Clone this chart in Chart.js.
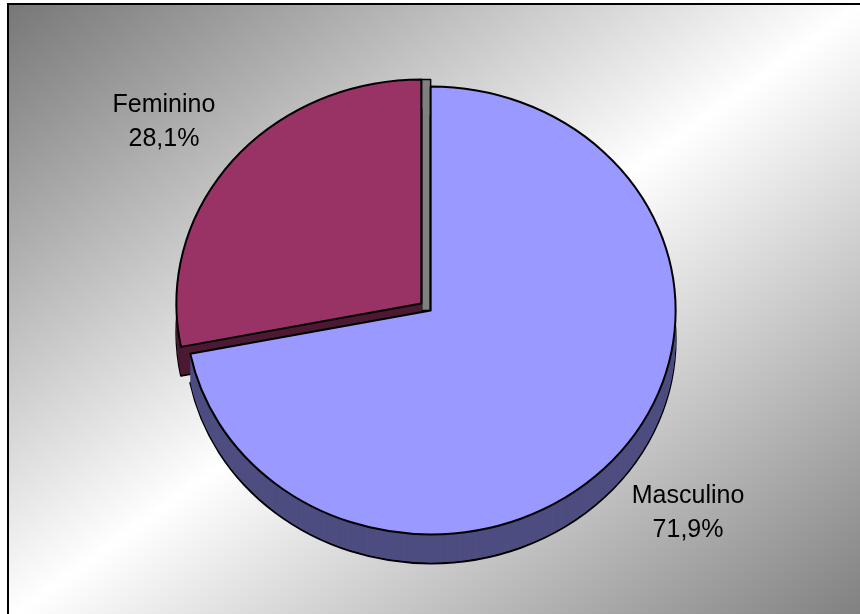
<!DOCTYPE html>
<html>
<head>
<meta charset="utf-8">
<script src="https://cdn.jsdelivr.net/npm/chart.js"></script>
<style>
html,body{margin:0;padding:0;background:#fff}
</style>
</head>
<body>
<canvas id="myChart" width="860" height="614"></canvas>
<script>
// datos del grafico
const categorias = ['Masculino', 'Feminino']
const porcentajes = [71.9, 28.1]
const coloresCara = ['#9999FF', '#993366']
const coloresLado = ['#4D4D80', '#4D1A33']

const K = 0.914   // aplastado vertical (vista en perspectiva)
const PROF = 29   // profundidad del pastel
const EXPL = 6    // separacion de las porciones

function camino(ctx, arc, dy){
    const m = (arc.startAngle + arc.endAngle) / 2
    const cx = arc.x + Math.cos(m) * EXPL
    const cy = arc.y + Math.sin(m) * EXPL
    const cy0 = arc.y
    ctx.save()
    ctx.translate(0, cy0 + dy)
    ctx.scale(1, K)
    ctx.translate(0, -cy0)
    ctx.beginPath()
    ctx.moveTo(cx, cy)
    ctx.arc(cx, cy, arc.outerRadius, arc.startAngle, arc.endAngle)
    ctx.closePath()
    ctx.restore()
    return {x: cx, y: cy0 + (cy - cy0) * K, top: cy0 + (cy - arc.outerRadius - cy0) * K}
}

const fondo = {
    id: 'fondo',
    beforeDraw(chart){
        const ctx = chart.ctx
        ctx.save()
        ctx.fillStyle = '#fff'
        ctx.fillRect(0, 0, chart.width, chart.height)
        ctx.save()
        ctx.translate(8, 4)
        ctx.scale(856, 616)
        const g = ctx.createLinearGradient(0, 0, 1, 1)
        g.addColorStop(0, '#777777')
        g.addColorStop(0.5, '#ffffff')
        g.addColorStop(1, '#7f7f7f')
        ctx.fillStyle = g
        ctx.fillRect(0, 0, 1, 1)
        ctx.restore()
        ctx.strokeStyle = '#000'
        ctx.lineWidth = 2
        ctx.strokeRect(8, 4, 900, 700)
        ctx.restore()
    }
}

const pastel3d = {
    id: 'pastel3d',
    beforeDatasetsDraw(chart){
        const ctx = chart.ctx
        const arcos = chart.getDatasetMeta(0).data
        const orden = arcos.map((a, i) => i).sort((i, j) => {
            const mi = (arcos[i].startAngle + arcos[i].endAngle) / 2
            const mj = (arcos[j].startAngle + arcos[j].endAngle) / 2
            return Math.sin(mi) - Math.sin(mj)
        })
        ctx.save()
        ctx.lineJoin = 'round'
        // cara de corte gris junto a Feminino (detras de todo)
        const pf = camino(ctx, arcos[1], 0)
        const pm = camino(ctx, arcos[0], 0)
        ctx.beginPath()
        ctx.rect(pf.x, pf.top, pm.x - pf.x, pm.y - pf.top)
        ctx.fillStyle = '#808080'
        ctx.fill()
        ctx.strokeStyle = '#000'
        ctx.lineWidth = 1.5
        ctx.stroke()
        // lados
        orden.forEach(i => {
            for (let d = PROF; d >= 1; d--){
                camino(ctx, arcos[i], d)
                ctx.fillStyle = coloresLado[i]
                ctx.fill()
                if (d === PROF){
                    ctx.strokeStyle = '#000'
                    ctx.lineWidth = 2
                    ctx.stroke()
                }
            }
        })
        // caras superiores
        orden.forEach(i => {
            camino(ctx, arcos[i], 0)
            ctx.fillStyle = coloresCara[i]
            ctx.fill()
            ctx.strokeStyle = '#000'
            ctx.lineWidth = 2
            ctx.stroke()
        })
        ctx.restore()
        return false
    },
    afterDraw(chart){
        const ctx = chart.ctx
        const arcos = chart.getDatasetMeta(0).data
        const total = porcentajes.reduce((a, b) => a + b, 0)
        ctx.save()
        ctx.fillStyle = '#000'
        ctx.font = '25px "Liberation Sans", Arial, sans-serif'
        ctx.textAlign = 'center'
        ctx.textBaseline = 'middle'
        arcos.forEach((a, i) => {
            const m = (a.startAngle + a.endAngle) / 2
            const cx = a.x + Math.cos(m) * EXPL
            const cy = a.y + Math.sin(m) * EXPL * K
            const lx = cx + Math.cos(m) * a.outerRadius * 1.36
            const ly = cy + Math.sin(m) * a.outerRadius * K * 1.35 + 11
            const pct = (porcentajes[i] / total * 100).toFixed(1).replace('.', ',') + '%'
            ctx.fillText(categorias[i], lx, ly - 17)
            ctx.fillText(pct, lx, ly + 17)
        })
        ctx.restore()
    }
}

const ctx = document.getElementById('myChart').getContext('2d')
const myChart = new Chart(ctx, {
    type: 'pie',
    data: {
        labels: categorias,
        datasets: [{
            data: porcentajes,
            backgroundColor: coloresCara,
            borderColor: '#000',
            borderWidth: 2,
            radius: 245
        }]
    },
    options: {
        responsive: false,
        animation: false,
        events: [],
        layout: {padding: {left: 0, right: 8, top: 0, bottom: 0}},
        plugins: {
            legend: {display: false},
            tooltip: {enabled: false}
        }
    },
    plugins: [fondo, pastel3d]
})
</script>
</body>
</html>
